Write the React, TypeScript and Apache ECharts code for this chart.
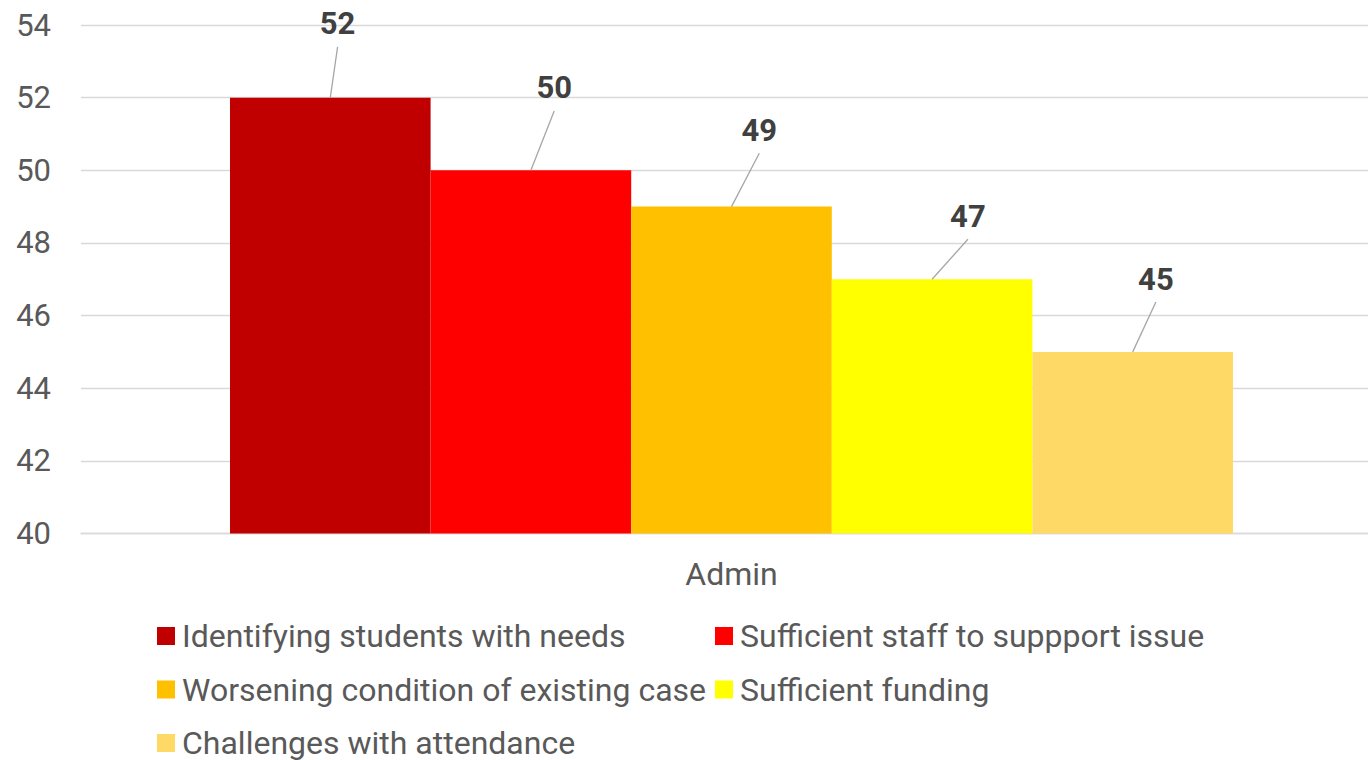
import React, { useEffect, useRef } from "react";
import * as echarts from "echarts";

const categories = ["Admin"];
const seriesNames = [
  "Identifying students with needs",
  "Sufficient staff to suppport issue",
  "Worsening condition of existing case",
  "Sufficient funding",
  "Challenges with attendance",
];
const seriesValues = [52, 50, 49, 47, 45];
const seriesColors = ["#C00000", "#FF0000", "#FFC000", "#FFFF00", "#FFD966"];
const yTicks = { min: 40, max: 54, interval: 2 };

// label placement relative to bar top centre (layout only)
const labelOffsets = [
  [7.3, -73.8],
  [23.3, -82.3],
  [27.8, -76.3],
  [35.8, -63],
  [23.2, -72.8],
];

const BAR_W = 200.6;
const FONT = "Roboto";
const TXT = "#595959";

export default function App() {
  const ref = useRef<HTMLDivElement>(null);

  useEffect(() => {
    if (!ref.current) return;
    const chart = echarts.init(ref.current, null, { renderer: "svg" });

    const barSeries = seriesNames.map((name, i) => ({
      name,
      type: "bar",
      xAxisIndex: 1,
      yAxisIndex: 1,
      data: [seriesValues[i]],
      barWidth: BAR_W,
      barGap: "0%",
      itemStyle: { color: seriesColors[i] },
      emphasis: { disabled: true },
    }));

    const labelSeries = {
      type: "custom",
      name: "labels",
      silent: true,
      z: 10,
      xAxisIndex: 1,
      yAxisIndex: 1,
      data: seriesValues.map((v, i) => [0, v, i]),
      renderItem: (params: any, api: any) => {
        const idx = api.value(2);
        const pt = api.coord([0, api.value(1)]);
        const n = seriesValues.length;
        const bx = pt[0] + (idx - (n - 1) / 2) * BAR_W;
        const by = pt[1];
        const off = labelOffsets[idx];
        const tx = bx + off[0];
        const ty = by + off[1];
        return {
          type: "group",
          children: [
            {
              type: "line",
              shape: { x1: bx, y1: by, x2: tx, y2: ty + 23 },
              style: { stroke: "#A6A6A6", lineWidth: 1.3 },
            },
            {
              type: "text",
              x: tx,
              y: ty,
              style: {
                text: String(api.value(1)),
                fill: "#404040",
                fontSize: 31,
                fontWeight: "bold",
                fontFamily: FONT,
                align: "center",
                verticalAlign: "middle",
              },
            },
          ],
        };
      },
    };

    const legendBase = {
      orient: "vertical",
      top: 620,
      height: 200,
      padding: 0,
      icon: "rect",
      itemWidth: 18,
      itemHeight: 18,
      itemGap: 21.5,
      selectedMode: false,
      textStyle: {
        fontSize: 32,
        color: TXT,
        fontFamily: FONT,
        lineHeight: 32,
        padding: [0, 0, 0, 2],
      },
    };

    chart.setOption({
      animation: false,
      backgroundColor: "#ffffff",
      textStyle: { fontFamily: FONT },
      grid: [
        { left: 81, top: 25, right: 0, height: 508.5, containLabel: false },
        { left: 230, top: 25, width: 1003, height: 508.5, containLabel: false },
      ],
      legend: [
        { ...legendBase, left: 157, data: [seriesNames[0], seriesNames[2], seriesNames[4]] },
        { ...legendBase, left: 715, data: [seriesNames[1], seriesNames[3]] },
      ],
      xAxis: [
        {
          type: "category",
          gridIndex: 0,
          data: [""],
          axisLine: { show: true, lineStyle: { color: "#D9D9D9", width: 1.3 } },
          axisTick: { show: false },
          axisLabel: { show: false },
        },
        {
          type: "category",
          gridIndex: 1,
          data: categories,
          axisLine: { show: false },
          axisTick: { show: false },
          axisLabel: { color: TXT, fontSize: 32, fontFamily: FONT, margin: 24 },
        },
      ],
      yAxis: [
        {
          type: "value",
          gridIndex: 0,
          min: yTicks.min,
          max: yTicks.max,
          interval: yTicks.interval,
          axisLine: { show: false },
          axisTick: { show: false },
          axisLabel: { color: TXT, fontSize: 31, fontFamily: FONT, margin: 30 },
          splitLine: { lineStyle: { color: "#D9D9D9", width: 1.3 } },
        },
        {
          type: "value",
          gridIndex: 1,
          min: yTicks.min,
          max: yTicks.max,
          interval: yTicks.interval,
          axisLine: { show: false },
          axisTick: { show: false },
          axisLabel: { show: false },
          splitLine: { show: false },
        },
      ],
      series: [...barSeries, labelSeries],
    });

    return () => chart.dispose();
  }, []);

  return (
    <div
      ref={ref}
      style={{ position: "fixed", left: 0, top: 0, width: 1368, height: 760 }}
    />
  );
}
